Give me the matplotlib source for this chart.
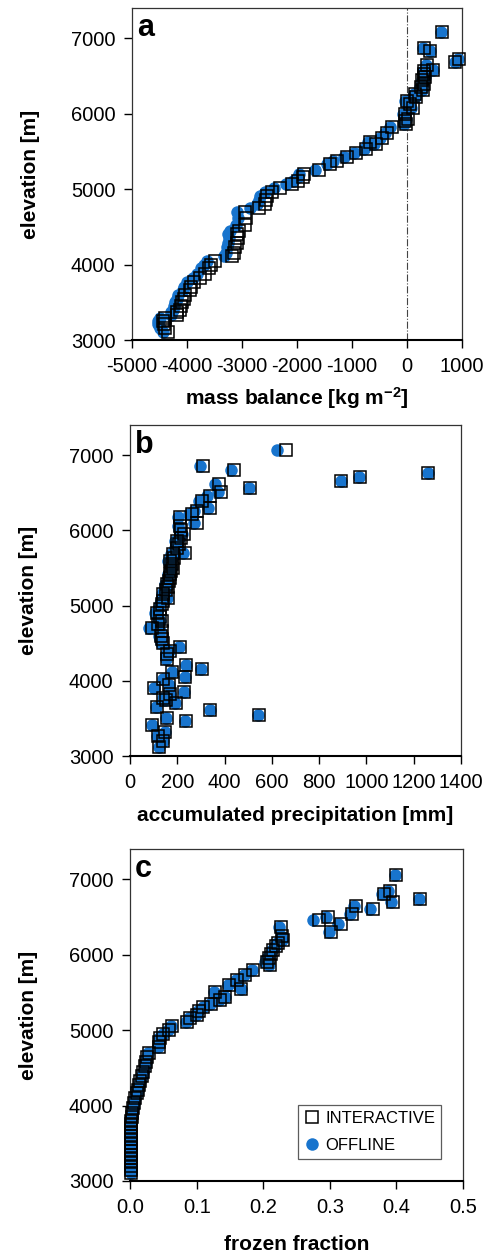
import matplotlib
matplotlib.use("Agg")
import matplotlib.pyplot as plt
from matplotlib.ticker import FormatStrFormatter
from matplotlib.lines import Line2D

plt.rcParams['font.family'] = ['Liberation Sans', 'DejaVu Sans']
plt.rcParams['axes.unicode_minus'] = False
plt.rcParams['mathtext.default'] = 'regular'

BLUE = '#1874cd'

# panel a: mass balance [kg m-2]
elev_a = [3110, 3160, 3210, 3250, 3290, 3330, 3370, 3400, 3450, 3500,
          3550, 3600, 3660, 3700, 3770, 3820, 3880, 3950, 4000, 4050,
          4110, 4160, 4230, 4290, 4350, 4400, 4450, 4530, 4620, 4700,
          4750, 4800, 4860, 4910, 4960, 5020, 5070, 5110, 5160, 5200,
          5260, 5330, 5370, 5420, 5480, 5530, 5600, 5620, 5680, 5750,
          5820, 5860, 5900, 5930, 6000, 6080, 6130, 6170, 6220, 6260,
          6310, 6350, 6400, 6440, 6480, 6530, 6570, 6580, 6640, 6690,
          6720, 6830, 6870, 7080]
mb_int = [-4340, -4400, -4420, -4430, -4400, -4190, -4180, -4130, -4110, -4100,
          -4060, -4040, -3950, -3930, -3880, -3760, -3680, -3610, -3560, -3500,
          -3180, -3150, -3120, -3100, -3080, -3100, -3060, -2950, -2920, -2940,
          -2700, -2590, -2560, -2550, -2450, -2310, -2100, -1980, -1900, -1880,
          -1610, -1400, -1280, -1100, -920, -750, -560, -680, -460, -370,
          -280, -10, -30, 20, -40, 110, 60, 0, 170, 150,
          290, 250, 300, 280, 330, 300, 300, 480, 360, 880,
          940, 420, 300, 630]
mb_off = [-4440, -4500, -4520, -4530, -4500, -4300, -4290, -4250, -4230, -4220,
          -4180, -4160, -4080, -4060, -4010, -3900, -3820, -3750, -3700, -3640,
          -3330, -3300, -3280, -3260, -3240, -3260, -3220, -3110, -3080, -3090,
          -2850, -2730, -2700, -2680, -2580, -2420, -2200, -2080, -1990, -1960,
          -1680, -1460, -1340, -1150, -970, -790, -600, -710, -490, -400,
          -310, -50, -60, -10, -70, 80, 30, -30, 150, 130,
          275, 235, 285, 265, 318, 290, 290, 470, 350, 870,
          930, 410, 290, 620]

# panel b: accumulated precipitation [mm]
elev_b = [3120, 3200, 3270, 3320, 3410, 3460, 3510, 3550, 3610, 3650,
          3700, 3740, 3775, 3820, 3855, 3910, 3950, 4020, 4050, 4110,
          4160, 4210, 4290, 4350, 4400, 4450, 4500, 4550, 4600, 4660,
          4705, 4750, 4795, 4850, 4905, 4960, 5015, 5060, 5105, 5150,
          5200, 5240, 5280, 5330, 5370, 5415, 5460, 5500, 5550, 5590,
          5630, 5680, 5700, 5770, 5820, 5860, 5900, 5950, 6000, 6060,
          6100, 6170, 6210, 6260, 6300, 6390, 6450, 6510, 6560, 6620,
          6650, 6710, 6760, 6800, 6850, 7070]
pr_int = [124, 141, 117, 149, 94, 235, 155, 544, 338, 113,
          192, 150, 141, 169, 228, 103, 166, 141, 233, 179,
          303, 237, 155, 155, 170, 211, 140, 134, 130, 134,
          92, 120, 134, 125, 113, 125, 134, 140, 162, 141,
          150, 160, 155, 165, 170, 169, 175, 180, 176, 169,
          185, 183, 233, 197, 205, 197, 215, 226, 215, 211,
          282, 211, 261, 282, 338, 303, 338, 384, 509, 378,
          894, 973, 1262, 438, 307, 658]
pr_off = [122, 139, 115, 147, 92, 233, 153, 542, 336, 111,
          190, 148, 139, 167, 226, 101, 164, 138, 231, 176,
          301, 235, 150, 150, 163, 205, 132, 126, 122, 126,
          80, 112, 126, 117, 105, 117, 126, 132, 154, 133,
          142, 152, 147, 157, 162, 161, 167, 172, 168, 161,
          177, 175, 225, 189, 197, 189, 207, 218, 207, 203,
          272, 203, 251, 272, 328, 293, 326, 372, 505, 360,
          892, 970, 1260, 427, 296, 622]

# panel c: frozen fraction
elev_c = [3100, 3150, 3200, 3250, 3300, 3350, 3400, 3450, 3500, 3550,
          3600, 3650, 3700, 3750, 3800, 3850, 3900, 3970, 4030, 4100,
          4160, 4210, 4270, 4320, 4390, 4450, 4520, 4580, 4640, 4700,
          4780, 4840, 4890, 4950, 5000, 5050, 5110, 5160, 5200, 5250,
          5300, 5350, 5400, 5440, 5510, 5550, 5600, 5660, 5730, 5800,
          5860, 5900, 5950, 6010, 6060, 6120, 6160, 6200, 6250, 6300,
          6370, 6400, 6460, 6500, 6540, 6600, 6650, 6700, 6740, 6800,
          6850, 7050]
ff_int = [0.001, 0.001, 0.001, 0.001, 0.001, 0.001, 0.001, 0.001, 0.001, 0.001,
          0.001, 0.001, 0.002, 0.002, 0.002, 0.003, 0.003, 0.005, 0.006, 0.008,
          0.010, 0.012, 0.014, 0.015, 0.018, 0.020, 0.022, 0.024, 0.026, 0.028,
          0.043, 0.044, 0.045, 0.050, 0.058, 0.063, 0.085, 0.090, 0.100, 0.103,
          0.110, 0.121, 0.135, 0.143, 0.127, 0.167, 0.148, 0.160, 0.172, 0.184,
          0.210, 0.205, 0.208, 0.212, 0.215, 0.219, 0.222, 0.230, 0.228, 0.302,
          0.227, 0.316, 0.283, 0.297, 0.334, 0.365, 0.339, 0.395, 0.436, 0.381,
          0.390, 0.400]
ff_off = [0.001, 0.001, 0.001, 0.001, 0.001, 0.001, 0.001, 0.001, 0.001, 0.001,
          0.001, 0.001, 0.002, 0.002, 0.002, 0.003, 0.003, 0.005, 0.006, 0.008,
          0.010, 0.012, 0.014, 0.015, 0.018, 0.020, 0.022, 0.024, 0.026, 0.027,
          0.042, 0.043, 0.044, 0.049, 0.057, 0.062, 0.084, 0.089, 0.099, 0.102,
          0.109, 0.120, 0.134, 0.142, 0.126, 0.166, 0.147, 0.159, 0.171, 0.183,
          0.208, 0.203, 0.206, 0.210, 0.213, 0.217, 0.220, 0.228, 0.226, 0.298,
          0.224, 0.312, 0.274, 0.294, 0.330, 0.360, 0.336, 0.392, 0.434, 0.378,
          0.387, 0.398]

fig = plt.figure(figsize=(4.91, 12.55), dpi=100)


def style_axis(ax, letter, xlabel):
    ax.set_ylim(3000, 7400)
    ax.set_yticks([3000, 4000, 5000, 6000, 7000])
    ax.tick_params(axis='both', direction='out', length=6, width=1.0,
                   labelsize=14.5, pad=6, top=False, right=False)
    for side in ['top', 'right', 'left']:
        ax.spines[side].set_linewidth(0.9)
        ax.spines[side].set_color('#333333')
    ax.spines['bottom'].set_linewidth(1.5)
    ax.set_ylabel('elevation [m]', fontsize=15, fontweight='bold', labelpad=22)
    ax.set_xlabel(xlabel, fontsize=15, fontweight='bold', labelpad=7)
    ax.text(0.015, 0.985, letter, transform=ax.transAxes, fontsize=22,
            fontweight='bold', ha='left', va='top')


def draw_points(ax, x_int, x_off, elev):
    ax.plot(x_off, elev, 'o', ms=9, mfc=BLUE, mec='none', clip_on=False, zorder=3)
    ax.plot(x_int, elev, 's', ms=8.5, mfc='none', mec='black', mew=1.1,
            clip_on=False, zorder=4)


# panel a
ax1 = fig.add_axes([0.269, 0.729, 0.672, 0.2646])
ax1.axvline(0, color='#444444', lw=0.8, ls='-.', zorder=1)
draw_points(ax1, mb_int, mb_off, elev_a)
ax1.set_xlim(-5000, 1000)
ax1.set_xticks([-5000, -4000, -3000, -2000, -1000, 0, 1000])
style_axis(ax1, 'a', 'mass balance [kg m$^{-2}$]')

# panel b
ax2 = fig.add_axes([0.265, 0.3976, 0.674, 0.2638])
draw_points(ax2, pr_int, pr_off, elev_b)
ax2.set_xlim(0, 1400)
ax2.set_xticks(range(0, 1401, 200))
style_axis(ax2, 'b', 'accumulated precipitation [mm]')
ax2.xaxis.labelpad = 10

# panel c
ax3 = fig.add_axes([0.265, 0.059, 0.678, 0.2645])
draw_points(ax3, ff_int, ff_off, elev_c)
ax3.set_xlim(0, 0.5)
ax3.set_xticks([0, 0.1, 0.2, 0.3, 0.4, 0.5])
ax3.xaxis.set_major_formatter(FormatStrFormatter('%.1f'))
style_axis(ax3, 'c', 'frozen fraction')
ax3.xaxis.labelpad = 13

handles = [Line2D([], [], marker='s', ls='none', ms=9, mfc='none', mec='black', mew=1.1),
           Line2D([], [], marker='o', ls='none', ms=9, mfc=BLUE, mec='none')]
leg = ax3.legend(handles, ['INTERACTIVE', 'OFFLINE'], loc='lower right',
                 bbox_to_anchor=(0.934, 0.066), borderaxespad=0, fontsize=12,
                 frameon=True, fancybox=False, edgecolor='#333333',
                 handlelength=1.0, handletextpad=0.3, labelspacing=0.75,
                 borderpad=0.35)
leg.get_frame().set_linewidth(0.9)

fig.savefig('out.png', dpi=100)
